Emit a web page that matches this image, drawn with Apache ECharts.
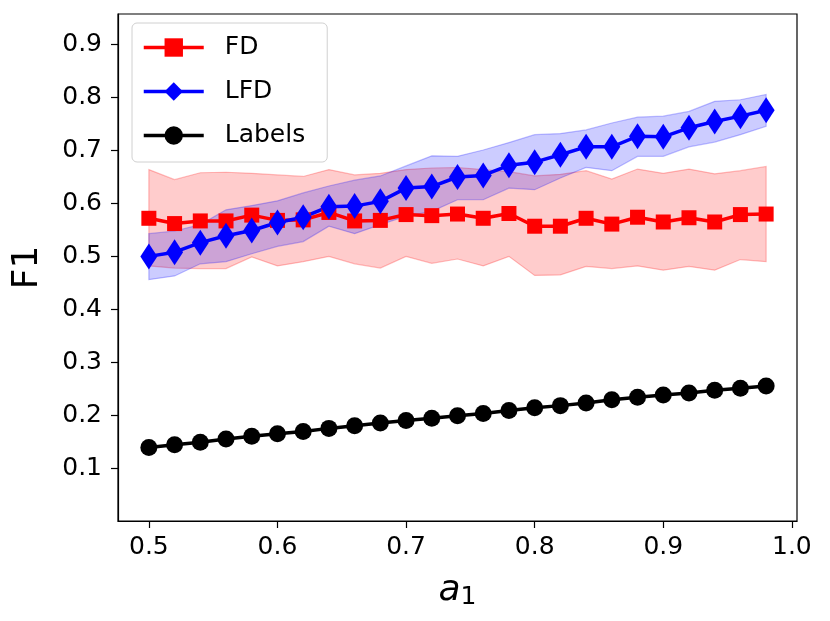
<!DOCTYPE html>
<html>
<head>
<meta charset="utf-8">
<script src="https://cdn.jsdelivr.net/npm/echarts@6/dist/echarts.min.js"></script>
<style>
  html, body { margin: 0; padding: 0; background: #fff; }
  #chart { width: 830px; height: 621px; }
</style>
</head>
<body>
<div id="chart"></div>
<script>
// x values (a_1)
var xs = [0.50, 0.52, 0.54, 0.56, 0.58, 0.60, 0.62, 0.64, 0.66, 0.68, 0.70, 0.72, 0.74,
          0.76, 0.78, 0.80, 0.82, 0.84, 0.86, 0.88, 0.90, 0.92, 0.94, 0.96, 0.98];

// FD
var fdMean = [0.572, 0.562, 0.567, 0.567, 0.578, 0.568, 0.569, 0.583, 0.567, 0.568, 0.579, 0.577, 0.580,
              0.572, 0.581, 0.557, 0.557, 0.572, 0.561, 0.574, 0.565, 0.573, 0.565, 0.579, 0.580];
var fdHigh = [0.664, 0.645, 0.658, 0.659, 0.657, 0.654, 0.651, 0.664, 0.654, 0.657, 0.664, 0.667, 0.668,
              0.664, 0.660, 0.652, 0.655, 0.662, 0.646, 0.665, 0.657, 0.665, 0.656, 0.662, 0.670];
var fdLow  = [0.482, 0.478, 0.477, 0.477, 0.499, 0.482, 0.490, 0.500, 0.486, 0.478, 0.500, 0.487, 0.495,
              0.482, 0.500, 0.464, 0.465, 0.481, 0.477, 0.482, 0.474, 0.481, 0.474, 0.494, 0.490];

// LFD
var lfdMean = [0.500, 0.508, 0.526, 0.539, 0.549, 0.564, 0.574, 0.594, 0.595, 0.604, 0.629, 0.632, 0.650,
               0.653, 0.672, 0.678, 0.692, 0.707, 0.707, 0.727, 0.726, 0.743, 0.755, 0.765, 0.776];
var lfdHigh = [0.543, 0.548, 0.560, 0.588, 0.596, 0.605, 0.620, 0.633, 0.644, 0.652, 0.671, 0.690, 0.689,
               0.701, 0.715, 0.730, 0.732, 0.739, 0.752, 0.763, 0.765, 0.774, 0.793, 0.796, 0.806];
var lfdLow  = [0.456, 0.463, 0.486, 0.490, 0.505, 0.519, 0.528, 0.557, 0.543, 0.560, 0.576, 0.585, 0.607,
               0.607, 0.629, 0.626, 0.648, 0.668, 0.662, 0.689, 0.689, 0.707, 0.716, 0.730, 0.746];

// Labels
var labelsMean = [0.139, 0.144, 0.149, 0.155, 0.160, 0.165, 0.169, 0.175, 0.180, 0.185, 0.190, 0.194, 0.199,
                  0.203, 0.209, 0.214, 0.218, 0.223, 0.229, 0.234, 0.238, 0.242, 0.247, 0.251, 0.255];

// ticks
var xTicks = [0.5, 0.6, 0.7, 0.8, 0.9, 1.0];
var yTicks = [0.1, 0.2, 0.3, 0.4, 0.5, 0.6, 0.7, 0.8, 0.9];

var FONT = 'DejaVu Sans';

function pairs(ys) {
    return xs.map(function(x, i) { return [x, ys[i]]; });
}

// shaded band between low and high, drawn as one polygon
function band(low, high, fill, edge) {
    return {
        type: 'custom',
        silent: true,
        z: 1,
        data: [[xs[0], low[0]]],
        renderItem: function(params, api) {
            var pts = [];
            for (var i = 0; i < xs.length; i++) pts.push(api.coord([xs[i], high[i]]));
            for (var j = xs.length - 1; j >= 0; j--) pts.push(api.coord([xs[j], low[j]]));
            return {
                type: 'polygon',
                shape: { points: pts },
                style: { fill: fill, stroke: edge, lineWidth: 1.2 }
            };
        }
    };
}

function line(name, ys, color, symbol, size) {
    return {
        name: name,
        type: 'line',
        data: pairs(ys),
        symbol: symbol,
        symbolSize: size,
        showAllSymbol: true,
        z: 3,
        lineStyle: { color: color, width: 3.5 },
        itemStyle: { color: color },
        emphasis: { disabled: true }
    };
}

var myChart = echarts.init(document.getElementById('chart'));

var option = {
    animation: false,
    backgroundColor: '#fff',
    textStyle: { fontFamily: FONT },
    grid: {
        left: 118, right: 33, top: 14, bottom: 100,
        show: true, borderColor: '#000', borderWidth: 1.2
    },
    legend: {
        orient: 'vertical',
        left: 132,
        top: 23,
        data: ['FD', 'LFD', 'Labels'],
        itemWidth: 60,
        itemHeight: 23,
        itemGap: 19,
        padding: [12, 22, 14, 10],
        backgroundColor: 'rgba(255,255,255,0.8)',
        borderColor: '#d0d0d0',
        borderWidth: 1,
        borderRadius: 5,
        lineStyle: { width: 3.5 },
        textStyle: { fontFamily: FONT, fontSize: 25, color: '#000', padding: [0, 0, 0, 16] }
    },
    xAxis: {
        type: 'value',
        min: 0.476,
        max: 1.004,
        name: '{i|a}{s|1}',
        nameLocation: 'middle',
        nameGap: 50,
        nameTextStyle: {
            rich: {
                i: { fontFamily: FONT, fontStyle: 'italic', fontSize: 36, color: '#000' },
                s: { fontFamily: FONT, fontSize: 25, color: '#000', verticalAlign: 'bottom', padding: [14, 0, 0, 0] }
            }
        },
        axisLine: { show: true, lineStyle: { color: '#000', width: 1.2 } },
        axisTick: { show: true, length: 7, lineStyle: { color: '#000', width: 1.2 }, customValues: xTicks },
        axisLabel: {
            fontFamily: FONT, fontSize: 25, color: '#000', margin: 14,
            customValues: xTicks,
            formatter: function(v) { return v.toFixed(1); }
        },
        splitLine: { show: false }
    },
    yAxis: {
        type: 'value',
        min: 0,
        max: 0.958,
        name: 'F1',
        nameLocation: 'middle',
        nameGap: 72,
        nameTextStyle: { fontFamily: FONT, fontSize: 36, color: '#000' },
        axisLine: { show: true, lineStyle: { color: '#000', width: 1.2 } },
        axisTick: { show: true, length: 7, lineStyle: { color: '#000', width: 1.2 }, customValues: yTicks },
        axisLabel: {
            fontFamily: FONT, fontSize: 25, color: '#000', margin: 16,
            customValues: yTicks,
            formatter: function(v) { return v.toFixed(1); }
        },
        splitLine: { show: false }
    },
    series: [
        band(fdLow, fdHigh, 'rgba(255,0,0,0.2)', 'rgba(255,0,0,0.25)'),
        band(lfdLow, lfdHigh, 'rgba(0,0,255,0.2)', 'rgba(0,0,255,0.25)'),
        line('FD', fdMean, '#ff0000', 'rect', 15),
        line('LFD', lfdMean, '#0000ff', 'diamond', [17, 26]),
        line('Labels', labelsMean, '#000000', 'circle', 17)
    ]
};

myChart.setOption(option);
</script>
</body>
</html>
